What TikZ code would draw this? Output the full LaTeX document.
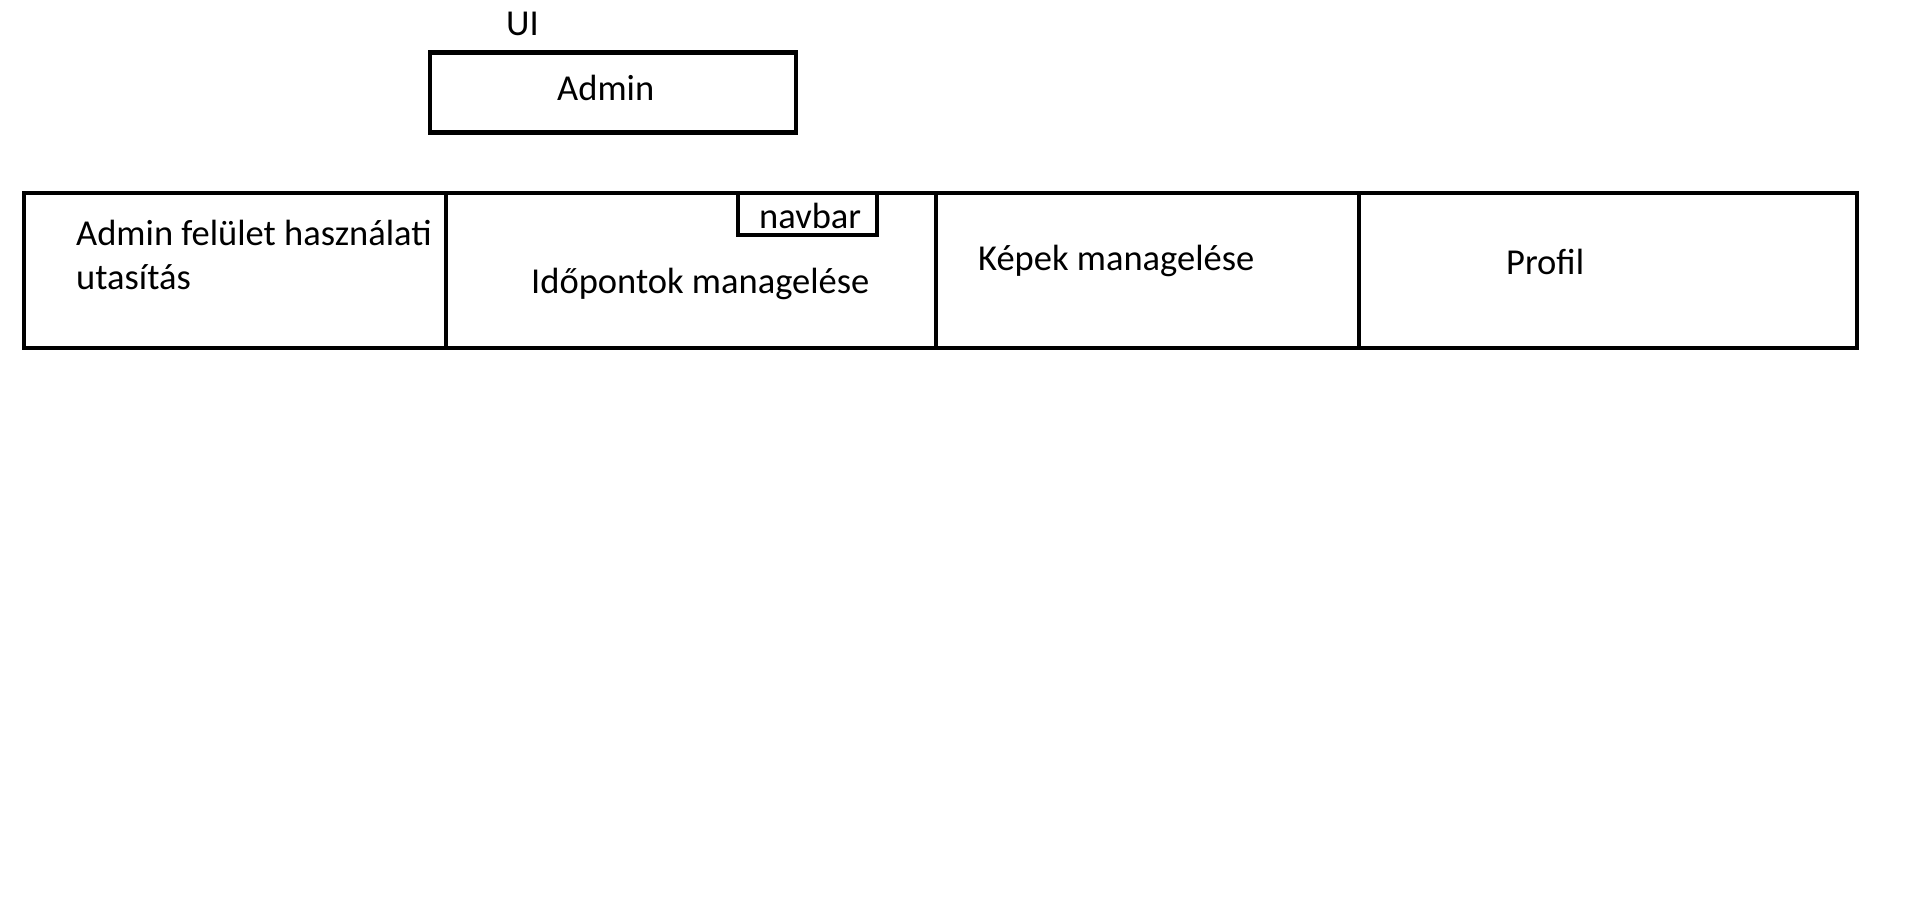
\documentclass[tikz,border=0pt]{standalone}
\usepackage{fontspec}
\setmainfont{Carlito}
\usetikzlibrary{positioning}

\begin{document}
\begin{tikzpicture}[x=1pt, y=-1pt,
    every node/.style={font=\fontsize{36.5}{44}\selectfont},
    box/.style={draw, line width=4.7pt, outer sep=0pt, inner sep=0pt},
    cell/.style={box, minimum height=155pt, anchor=north west},
    lbl/.style={inner sep=0pt, anchor=base west, align=left}]
  \useasboundingbox (0,0) rectangle (1914,914);

  % Felso resz
  \node[lbl] (ui) at (506,35) {UI};
  \node[box, minimum width=366pt, minimum height=80pt, anchor=north west] (admin) at (430,52.5) {};
  \node[lbl] (adminlbl) at (557,100) {Admin};

  % Menusor cellai
  \node[cell, minimum width=422pt] (c1) at (24,193) {};
  \node[cell, minimum width=490pt, right=0pt of c1] (c2) {};
  \node[cell, minimum width=423pt, right=0pt of c2] (c3) {};
  \node[cell, minimum width=498pt, right=0pt of c3] (c4) {};

  % navbar a masodik cella tetejen
  \node[box, minimum width=139pt, minimum height=42pt, anchor=north west] (navbar) at (738,193) {};
  \node[lbl] (navbarlbl) at (759,228) {navbar};

  % Cellak feliratai (tobbsoros: az also sor alapvonala)
  \node[lbl] (t1) at (76,289) {Admin felület használati\\utasítás};
  \node[lbl] (t2) at (531,293) {Időpontok managelése};
  \node[lbl] (t3) at (978,270) {Képek managelése};
  \node[lbl] (t4) at (1506,274) {Profil};
\end{tikzpicture}
\end{document}
